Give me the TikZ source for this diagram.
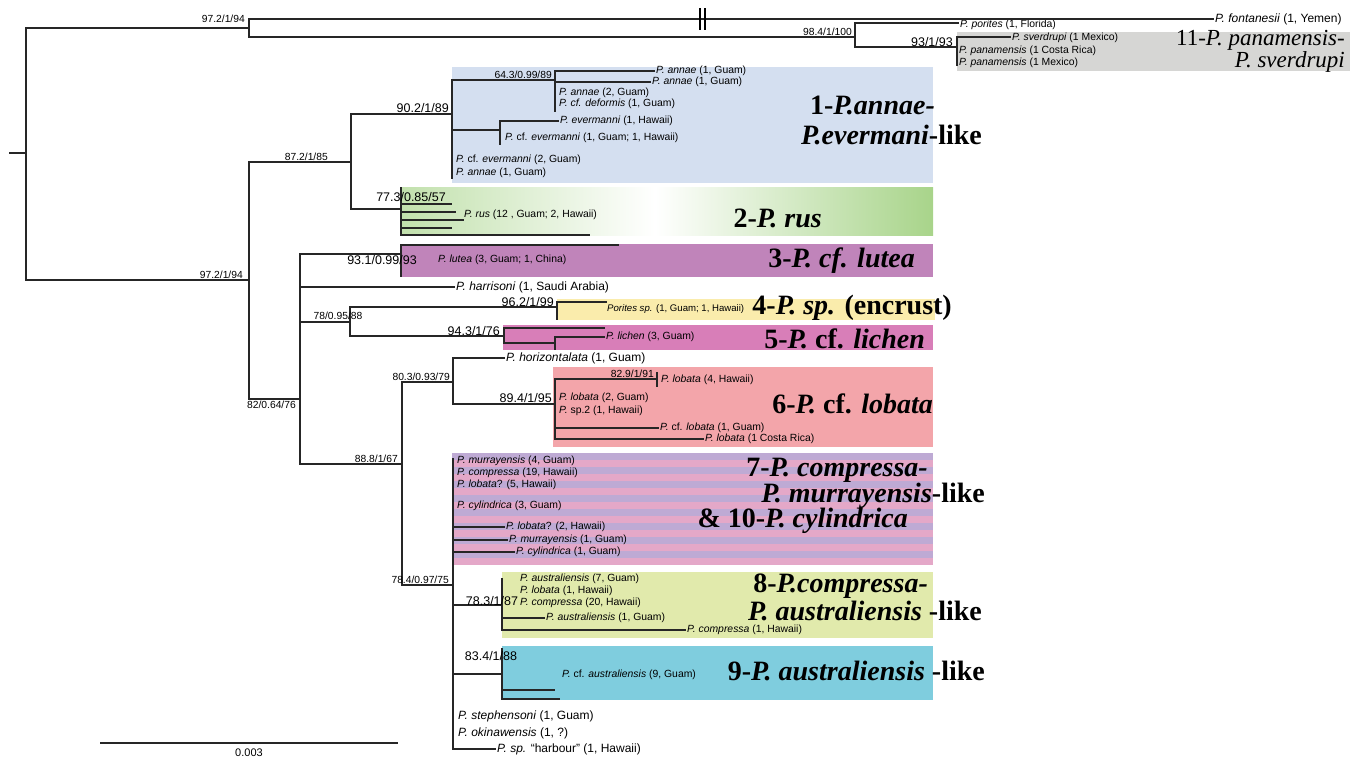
\documentclass[tikz,border=0pt]{standalone}
\usepackage{fontspec}
\setmainfont{Liberation Serif}
\setsansfont{Liberation Sans}
\usetikzlibrary{positioning, calc}

\definecolor{cladegrey}{RGB}{214,214,212}
\definecolor{cladeblue}{RGB}{212,223,240}
\definecolor{cladegreen}{RGB}{168,212,138}
\definecolor{cladepurple}{RGB}{192,132,186}
\definecolor{cladeyellow}{RGB}{250,236,172}
\definecolor{cladepink}{RGB}{216,126,184}
\definecolor{claderose}{RGB}{243,165,170}
\definecolor{stripepink}{RGB}{228,168,200}
\definecolor{stripelav}{RGB}{190,170,212}
\definecolor{cladelime}{RGB}{225,234,172}
\definecolor{cladecyan}{RGB}{127,205,222}

\begin{document}
\begin{tikzpicture}[x=1pt, y=-1pt,
        branch/.style={draw=black!85, line width=1.1pt},
        taxon/.style={anchor=west, inner sep=1pt, font=\sffamily\fontsize{10.4}{11}\selectfont},
        bigtaxon/.style={taxon, font=\sffamily\fontsize{12}{13}\selectfont},
        supp/.style={inner sep=1pt, font=\sffamily\fontsize{10.3}{11}\selectfont},
        bigsupp/.style={supp, font=\sffamily\fontsize{12.5}{13}\selectfont},
        cladename/.style={anchor=east, inner sep=0pt, font=\bfseries\fontsize{28}{28}\selectfont}
    ]
    \useasboundingbox (0,0) rectangle (1367,761);

    % clade boxes
    \fill[cladegrey] (957,32) rectangle (1350,71);
    \fill[cladeblue] (452,67) rectangle (933,183);
    \shade[left color=cladegreen!70, right color=white] (402,187) rectangle (655,235);
    \shade[left color=white, right color=cladegreen] (655,187) rectangle (933,235);
    \fill[cladepurple] (401,244) rectangle (933,277);
    \fill[cladeyellow] (557,299) rectangle (935,320);
    \fill[cladepink] (503,325) rectangle (933,350);
    \fill[claderose] (553,367) rectangle (933,447);
    \fill[stripelav] (452,453) rectangle (933,563);
    \foreach \k in {0,...,7}
        \fill[stripepink] (452,460+14*\k) rectangle (933,467+14*\k);
    \fill[cladelime] (502,572) rectangle (933,638);
    \fill[cladecyan] (502,646) rectangle (933,700);

    % internal nodes
    \coordinate (base) at (9,153);
    \coordinate (r) at (26,153);
    \coordinate (a) at (249,28);
    \coordinate (b) at (855,37);
    \coordinate (b1) at (959,23);
    \coordinate (c) at (957,47);
    \coordinate (c1) at (957,66);
    \coordinate (c2) at (1011,37);
    \coordinate (d) at (249,280);
    \coordinate (e) at (351,162);
    \coordinate (f) at (452,114);
    \coordinate (f1) at (452,179);
    \coordinate (g) at (555,80);
    \coordinate (g1) at (555,112);
    \coordinate (h) at (500,130);
    \coordinate (h1) at (500,145);
    \coordinate (i) at (401,209);
    \coordinate (i0) at (401,187);
    \coordinate (r1) at (452,204);
    \coordinate (r2) at (456,212);
    \coordinate (r3) at (464,220);
    \coordinate (r4) at (452,228);
    \coordinate (r5) at (590,235);
    \coordinate (j) at (300,399);
    \coordinate (k) at (401,254);
    \coordinate (k0) at (401,245);
    \coordinate (k1) at (619,245);
    \coordinate (k2) at (401,277);
    \coordinate (l) at (350,322);
    \coordinate (m) at (557,307);
    \coordinate (m1) at (557,320);
    \coordinate (m2) at (607,302);
    \coordinate (n) at (504,336);
    \coordinate (n1) at (605,328);
    \coordinate (o) at (555,343);
    \coordinate (o1) at (555,350);
    \coordinate (p) at (402,464);
    \coordinate (q) at (453,382);
    \coordinate (s) at (555,404);
    \coordinate (t) at (657,379);
    \coordinate (t0) at (657,372);
    \coordinate (t1) at (657,387);
    \coordinate (u) at (453,585);
    \coordinate (u0) at (453,458);
    \coordinate (v) at (502,605);
    \coordinate (v0) at (502,578);
    \coordinate (w) at (502,674);
    \coordinate (w0) at (502,648);
    \coordinate (w1) at (555,690);
    \coordinate (w2) at (560,699);

    % taxa
    \node[bigtaxon] (fon) at (1214,19) {\textit{P. fontanesii} (1, Yemen)};
    \node[taxon] (por) at (959,25) {\textit{P. porites} (1, Florida)};
    \node[taxon] (sve) at (1011,38) {\textit{P. sverdrupi} (1 Mexico)};
    \node[taxon] (pan1) at (958,51) {\textit{P. panamensis} (1 Costa Rica)};
    \node[taxon] (pan2) at (958,63) {\textit{P. panamensis} (1 Mexico)};
    \node[taxon] (an1) at (655,71) {\textit{P. annae} (1, Guam)};
    \node[taxon] (an2) at (651,82) {\textit{P. annae} (1, Guam)};
    \node[taxon] (an3) at (558,93) {\textit{P. annae} (2, Guam)};
    \node[taxon] (def) at (558,104) {\textit{P. cf. deformis} (1, Guam)};
    \node[taxon] (ev1) at (559,121) {\textit{P. evermanni} (1, Hawaii)};
    \node[taxon] (ev2) at (504,138) {\textit{P.} cf. \textit{evermanni} (1, Guam; 1, Hawaii)};
    \node[taxon] (ev3) at (455,160) {\textit{P.} cf. \textit{evermanni} (2, Guam)};
    \node[taxon] (an4) at (455,173) {\textit{P. annae} (1, Guam)};
    \node[taxon] (rus) at (463,215) {\textit{P. rus} (12 , Guam; 2, Hawaii)};
    \node[taxon] (lut) at (437,260) {\textit{P. lutea} (3, Guam; 1, China)};
    \node[bigtaxon] (har) at (455,287) {\textit{P. harrisoni} (1, Saudi Arabia)};
    \node[taxon, font=\sffamily\fontsize{9.6}{10}\selectfont] (psp) at (606,309) {\textit{Porites sp.} (1, Guam; 1, Hawaii)};
    \node[taxon] (lic) at (605,337) {\textit{P. lichen} (3, Guam)};
    \node[bigtaxon] (hor) at (505,358) {\textit{P. horizontalata} (1, Guam)};
    \node[taxon] (lob4) at (660,380) {\textit{P. lobata} (4, Hawaii)};
    \node[taxon] (lob2) at (558,398) {\textit{P. lobata} (2, Guam)};
    \node[taxon] (sp2) at (558,411) {\textit{P.} sp.2 (1, Hawaii)};
    \node[taxon] (cfl) at (659,428) {\textit{P.} cf. \textit{lobata} (1, Guam)};
    \node[taxon] (lcr) at (704,439) {\textit{P. lobata} (1 Costa Rica)};
    \node[taxon] (mur4) at (456,461) {\textit{P. murrayensis} (4, Guam)};
    \node[taxon] (com19) at (456,473) {\textit{P. compressa} (19, Hawaii)};
    \node[taxon] (lob5) at (456,485) {\textit{P. lobata}? (5, Hawaii)};
    \node[taxon] (cyl3) at (456,506) {\textit{P. cylindrica} (3, Guam)};
    \node[taxon] (lob2h) at (505,527) {\textit{P. lobata}? (2, Hawaii)};
    \node[taxon] (mur1) at (508,540) {\textit{P. murrayensis} (1, Guam)};
    \node[taxon] (cyl1) at (515,552) {\textit{P. cylindrica} (1, Guam)};
    \node[taxon] (aus7) at (519,579) {\textit{P. australiensis} (7, Guam)};
    \node[taxon] (lob1) at (519,591) {\textit{P. lobata} (1, Hawaii)};
    \node[taxon] (com20) at (519,603) {\textit{P. compressa} (20, Hawaii)};
    \node[taxon] (aus1) at (545,618) {\textit{P. australiensis} (1, Guam)};
    \node[taxon] (com1) at (686,630) {\textit{P. compressa} (1, Hawaii)};
    \node[taxon] (cfa) at (561,675) {\textit{P.} cf. \textit{australiensis} (9, Guam)};
    \node[bigtaxon] (ste) at (457,716) {\textit{P. stephensoni} (1, Guam)};
    \node[bigtaxon] (oki) at (457,733) {\textit{P. okinawensis} (1, ?)};
    \node[bigtaxon] (harb) at (496,749) {\textit{P. sp.} “harbour” (1, Hawaii)};

    % branches
    \draw[branch] (base) -- (r) |- (a);
    \draw[branch] (r) |- (d);
    \draw[branch] (a) |- (fon.west);
    \draw[branch] (a) |- (b);
    \draw[branch] (b) |- (b1);
    \draw[branch] (b) |- (c);
    \draw[branch] (c) |- (c2);
    \draw[branch] (c) -- (c1);
    \draw[line width=1.3pt] (700,8) -- (700,30) (705,8) -- (705,30);
    \draw[branch] (d) |- (e);
    \draw[branch] (e) |- (f);
    \draw[branch] (f) |- (g);
    \draw[branch] (g) |- (an1.west);
    \draw[branch] (g) |- (an2.west);
    \draw[branch] (g) -- (g1);
    \draw[branch] (f) |- (h);
    \draw[branch] (h) |- (ev1.west);
    \draw[branch] (h) -- (h1);
    \draw[branch] (f) -- (f1);
    \draw[branch] (e) |- (i);
    \draw[branch] (i) -- (i0);
    \foreach \t in {r1,r2,r3,r4,r5}
        \draw[branch] (i) |- (\t);
    \draw[branch] (d) |- (j);
    \draw[branch] (j) |- (k);
    \draw[branch] (k) -- (k0) -- (k1);
    \draw[branch] (k) -- (k2);
    \draw[branch] (j) |- (har.west);
    \draw[branch] (j) |- (l);
    \draw[branch] (l) |- (m);
    \draw[branch] (m) |- (m2);
    \draw[branch] (m) -- (m1);
    \draw[branch] (l) |- (n);
    \draw[branch] (n) |- (n1);
    \draw[branch] (n) |- (o);
    \draw[branch] (o) |- (lic.west);
    \draw[branch] (o) -- (o1);
    \draw[branch] (j) |- (p);
    \draw[branch] (p) |- (q);
    \draw[branch] (q) |- (hor.west);
    \draw[branch] (q) |- (s);
    \draw[branch] (s) |- (t);
    \draw[branch] (t0) -- (t1);
    \draw[branch] (s) |- (cfl.west);
    \draw[branch] (s) |- (lcr.west);
    \draw[branch] (p) |- (u);
    \draw[branch] (u) -- (u0);
    \draw[branch] (u) |- (lob2h.west);
    \draw[branch] (u) |- (mur1.west);
    \draw[branch] (u) |- (cyl1.west);
    \draw[branch] (u) |- (v);
    \draw[branch] (v) -- (v0);
    \draw[branch] (v) |- (aus1.west);
    \draw[branch] (v) |- (com1.west);
    \draw[branch] (u) |- (w);
    \draw[branch] (w) -- (w0);
    \draw[branch] (w) |- (w1);
    \draw[branch] (w) |- (w2);
    \draw[branch] (u) |- (harb.west);

    % support values
    \node[supp, above left=4pt and 3pt of a] (sa) {97.2/1/94};
    \node[supp, above left=0pt and 2pt of b] (sb) {98.4/1/100};
    \node[bigsupp, above left=-1pt and 3pt of c] (sc) {93/1/93};
    \node[supp, above left=0pt and 5pt of d] (sd) {97.2/1/94};
    \node[supp, above left=0pt and 22pt of e] (se) {87.2/1/85};
    \node[bigsupp, above left=0pt and 2pt of f] (sf) {90.2/1/89};
    \node[supp, above left=0pt and 2pt of g] (sg) {64.3/0.99/89};
    \node[bigsupp] (si) at (411,197) {77.3/0.85/57};
    \node[supp, below left=1pt and 3pt of j] (sj) {82/0.64/76};
    \node[bigsupp] (sk) at (382,260) {93.1/0.99/93};
    \node[supp] (sl) at (338,316) {78/0.95/88};
    \node[bigsupp, above left=-1pt and 2pt of m] (sm) {96.2/1/99};
    \node[bigsupp, above left=-1pt and 3pt of n] (sn) {94.3/1/76};
    \node[supp, above left=0pt and 3pt of p] (sp) {88.8/1/67};
    \node[supp, above left=0pt and 2pt of q] (sq) {80.3/0.93/79};
    \node[bigsupp, above left=0pt and 2pt of s] (ss) {89.4/1/95};
    \node[supp, above left=0pt and 2pt of t] (st) {82.9/1/91};
    \node[supp, above left=0pt and 3pt of u] (su) {78.4/0.97/75};
    \node[bigsupp] (sv) at (492,601) {78.3/1/87};
    \node[bigsupp] (sw) at (491,656) {83.4/1/88};

    % clade names
    \node[cladename] (c1a) at (935,105) {1-\textit{P.annae-}};
    \node[cladename] (c1b) at (982,135) {\textit{P.evermani}-like};
    \node[cladename] (c2) at (822,218) {2-\textit{P. rus}};
    \node[cladename] (c3) at (915,261) {3-\textit{P. cf. lutea}};
    \node[cladename] (c4) at (952,308) {4-\textit{P. sp.} (encrust)};
    \node[cladename] (c5) at (925,339) {5-\textit{P.} cf. \textit{lichen}};
    \node[cladename] (c6) at (933,404) {6-\textit{P.} cf. \textit{lobata}};
    \node[cladename] (c7a) at (928,470) {7-\textit{P. compressa-}};
    \node[cladename] (c7b) at (985,496) {\textit{P. murrayensis}-like};
    \node[cladename] (c7c) at (908,521) {\& 10-\textit{P. cylindrica}};
    \node[cladename] (c8a) at (928,586) {8-\textit{P.compressa-}};
    \node[cladename] (c8b) at (982,611) {\textit{P. australiensis} -like};
    \node[cladename] (c9) at (985,671) {9-\textit{P. australiensis} -like};
    \node[cladename, align=right, font=\fontsize{23}{17}\selectfont] (c11) at (1345,51)
        {11-\textit{P. panamensis-}\\\textit{P. sverdrupi}};

    % scale bar
    \coordinate (sb0) at (100,743);
    \coordinate (sb1) at (398,743);
    \draw[branch] (sb0) -- (sb1);
    \node[supp, font=\sffamily\fontsize{11}{12}\selectfont, below=5pt of $(sb0)!0.5!(sb1)$] (sbl) {0.003};
\end{tikzpicture}
\end{document}
